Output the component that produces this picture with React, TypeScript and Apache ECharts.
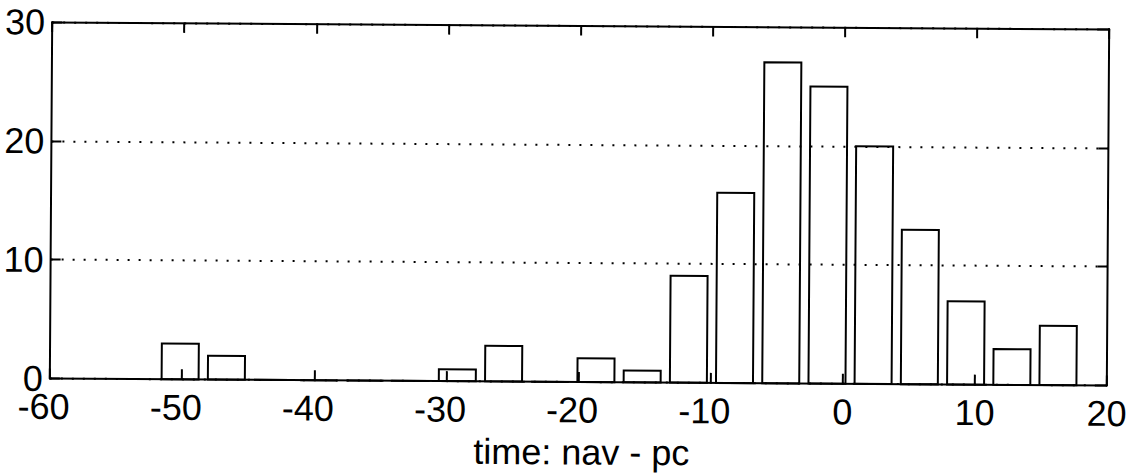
import React, { useEffect, useRef } from "react";
import * as echarts from "echarts";

// Histogram bin centres and counts per bin
const binCenters = [
  -50.14, -46.64, -43.15, -39.65, -36.15, -32.66, -29.16, -25.66, -22.17, -18.67,
  -15.17, -11.67, -8.18, -4.68, -1.18, 2.31, 5.81, 9.31, 12.81, 16.3,
];
const counts = [3, 2, 0, 0, 0, 0, 1, 3, 0, 2, 1, 9, 16, 27, 25, 20, 13, 7, 3, 5];

const xMin = -60;
const xMax = 20;
const xStep = 10;
const yMin = 0;
const yMax = 30;
const yStep = 10;
const xLabel = "time: nav - pc";

const FONT = "'Liberation Sans', Arial, Helvetica, sans-serif";
const FS = 36;
const LH = 26;
const BAR_FRAC = 0.8;

export default function App() {
  const ref = useRef<HTMLDivElement>(null);

  useEffect(() => {
    if (!ref.current) return;
    const chart = echarts.init(ref.current, undefined, { renderer: "svg" });
    const binWidth = binCenters[1] - binCenters[0];

    const axisLine = { show: true, onZero: false, lineStyle: { color: "#000", width: 2 } };
    const axisTick = { show: true, inside: true, length: 10, lineStyle: { color: "#000", width: 2 } };
    const tok = { fontSize: FS, fontFamily: FONT, color: "#000", lineHeight: LH };

    chart.setOption({
      animation: false,
      backgroundColor: "#fff",
      grid: { left: 51, right: 36, top: 25.5, bottom: 92.5, containLabel: false },
      xAxis: [
        {
          type: "value",
          position: "bottom",
          min: xMin,
          max: xMax,
          interval: xStep,
          axisLine,
          axisTick,
          splitLine: { show: false },
          name: xLabel,
          nameLocation: "middle",
          nameGap: 52,
          nameTextStyle: { color: "#000", fontSize: FS, fontFamily: FONT, padding: [0, 0, 0, 7] },
          axisLabel: {
            color: "#000",
            fontSize: FS,
            fontFamily: FONT,
            lineHeight: LH,
            margin: 15,
            formatter: (v: number) => (v < 0 ? `{m|-}{d|${-v}}{p| }` : `{d|${v}}`),
            rich: {
              m: tok,
              d: tok,
              p: { ...tok, width: 12 },
            },
          },
        },
        {
          type: "value",
          position: "top",
          min: xMin,
          max: xMax,
          interval: xStep,
          axisLine,
          axisTick,
          axisLabel: { show: false },
          splitLine: { show: false },
        },
      ],
      yAxis: [
        {
          type: "value",
          position: "left",
          min: yMin,
          max: yMax,
          interval: yStep,
          axisLine,
          axisTick,
          axisLabel: { color: "#000", fontSize: FS, fontFamily: FONT, lineHeight: LH, margin: 7 },
          splitLine: { show: true, lineStyle: { color: "#000", width: 2, type: [2, 9] } },
        },
        {
          type: "value",
          position: "right",
          min: yMin,
          max: yMax,
          interval: yStep,
          axisLine,
          axisTick,
          axisLabel: { show: false },
          splitLine: { show: false },
        },
      ],
      series: [
        {
          type: "custom",
          xAxisIndex: 0,
          yAxisIndex: 0,
          data: binCenters.map((c, i) => [c, counts[i]]),
          encode: { x: 0, y: 1 },
          renderItem: (_params: any, api: any) => {
            const c = api.value(0);
            const v = api.value(1);
            const half = (BAR_FRAC * binWidth) / 2;
            const p0 = api.coord([c - half, v]);
            const p1 = api.coord([c + half, 0]);
            return {
              type: "rect",
              shape: { x: p0[0], y: p0[1], width: p1[0] - p0[0], height: p1[1] - p0[1] },
              style: { fill: "none", stroke: "#000", lineWidth: 2 },
            };
          },
        },
      ],
    });

    return () => chart.dispose();
  }, []);

  return (
    <div
      style={{
        position: "absolute",
        left: 0,
        top: 0,
        width: 1144,
        height: 475,
        background: "#fff",
        transform: "rotate(0.38deg)",
        transformOrigin: "579.5px 204px",
      }}
    >
      <div ref={ref} style={{ width: 1144, height: 475 }} />
    </div>
  );
}
